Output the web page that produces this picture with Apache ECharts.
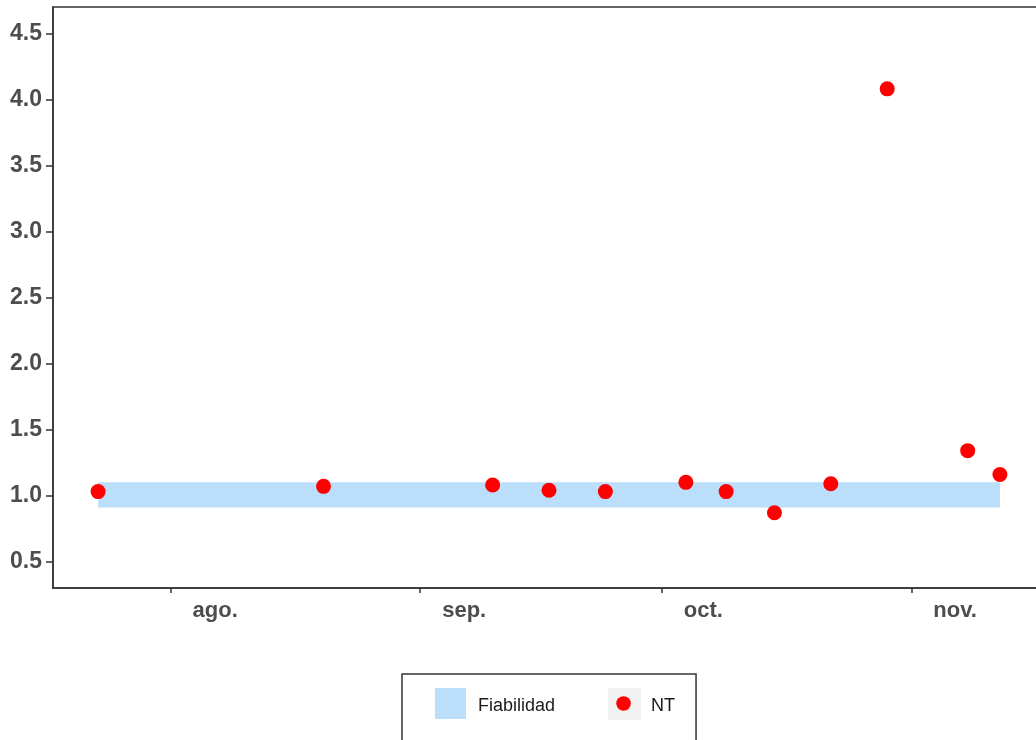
<!DOCTYPE html>
<html>
<head>
<meta charset="utf-8">
<title>NT</title>
<script src="https://cdn.jsdelivr.net/npm/echarts@6/dist/echarts.min.js"></script>
<style>
html, body { margin: 0; padding: 0; background: #fff; }
#chart { width: 1036px; height: 740px; }
</style>
</head>
<body>
<div id="chart"></div>
<script>
// datos
var fechas = ['2021-07-23', '2021-08-20', '2021-09-10', '2021-09-17', '2021-09-24', '2021-10-04',
              '2021-10-09', '2021-10-15', '2021-10-22', '2021-10-29', '2021-11-08', '2021-11-12'];
var valoresNT = [1.03, 1.07, 1.08, 1.04, 1.03, 1.10, 1.03, 0.87, 1.09, 4.08, 1.34, 1.16];
var fiabilidad = [0.91, 1.10]; // limite inferior / superior de la banda
var meses = ['2021-08-01', '2021-09-01', '2021-10-01', '2021-11-01'];
var nombresMes = ['ene.', 'feb.', 'mar.', 'abr.', 'may.', 'jun.', 'jul.', 'ago.', 'sep.', 'oct.', 'nov.', 'dic.'];
var ticksY = [0.5, 1.0, 1.5, 2.0, 2.5, 3.0, 3.5, 4.0, 4.5];

function t(s) {
    return new Date(s + 'T00:00:00').getTime();
}

var inicio = t(fechas[0]);
var fin = t(fechas[fechas.length - 1]);
var margen = (fin - inicio) * 0.05;

var puntos = fechas.map(function (f, i) {
    return [t(f), valoresNT[i]];
});

var myChart = echarts.init(document.getElementById('chart'));

var option = {
    backgroundColor: '#fff',
    animation: false,
    grid: {
        left: 53,
        top: 7,
        height: 581,
        width: 992,
        outerBoundsMode: 'none',
        show: true,
        borderColor: '#333',
        borderWidth: 1.5,
        containLabel: false
    },
    tooltip: { trigger: 'item' },
    legend: {
        left: 402,
        top: 674,
        padding: [14, 21, 40, 33],
        borderColor: '#333',
        borderWidth: 1.5,
        itemWidth: 31,
        itemHeight: 31,
        itemGap: 53,
        selectedMode: false,
        z: 5,
        textStyle: {
            fontFamily: 'Liberation Sans',
            fontSize: 18,
            color: '#1a1a1a',
            rich: {
                t: {
                    fontFamily: 'Liberation Sans',
                    fontSize: 18,
                    color: '#1a1a1a',
                    padding: [6, 0, 0, 7]
                }
            }
        },
        formatter: function (name) {
            return '{t|' + name + '}';
        },
        data: [
            { name: 'Fiabilidad', icon: 'rect' },
            { name: 'NT', icon: 'path://M0 0M32 32M16 8.5a7.5 7.5 0 1 1 0 15a7.5 7.5 0 1 1 0 -15z' }
        ]
    },
    graphic: [{
        type: 'rect',
        left: 608,
        top: 688,
        z: 0,
        shape: { width: 33, height: 32 },
        style: { fill: '#f2f2f2' }
    }],
    xAxis: {
        type: 'value',
        min: inicio - margen,
        max: fin + margen,
        splitLine: { show: false },
        axisLine: { lineStyle: { color: '#333', width: 1.5 } },
        axisTick: {
            length: 5,
            lineStyle: { color: '#333', width: 1.5 },
            customValues: meses.map(t)
        },
        axisLabel: {
            customValues: meses.map(t),
            align: 'left',
            padding: [0, 0, 0, 22],
            margin: 12,
            fontFamily: 'Liberation Sans',
            fontWeight: 'bold',
            fontSize: 22,
            color: '#4d4d4d',
            formatter: function (v) {
                return nombresMes[new Date(v).getMonth()];
            }
        }
    },
    yAxis: {
        type: 'value',
        min: 0.3,
        max: 4.7,
        splitLine: { show: false },
        axisLine: { show: true, lineStyle: { color: '#333', width: 1.5 } },
        axisTick: {
            show: true,
            length: 7,
            lineStyle: { color: '#333', width: 1.5 },
            customValues: ticksY
        },
        axisLabel: {
            customValues: ticksY,
            margin: 11,
            fontFamily: 'Liberation Sans',
            fontWeight: 'bold',
            fontSize: 23,
            color: '#4d4d4d',
            formatter: function (v) {
                return v.toFixed(1);
            }
        }
    },
    series: [
        {
            name: 'Fiabilidad',
            type: 'custom',
            silent: true,
            itemStyle: { color: '#bbdefb' },
            encode: { x: [0, 1], y: [2, 3] },
            data: [[inicio, fin, fiabilidad[0], fiabilidad[1]]],
            renderItem: function (params, api) {
                var p1 = api.coord([api.value(0), api.value(3)]);
                var p2 = api.coord([api.value(1), api.value(2)]);
                return {
                    type: 'rect',
                    shape: { x: p1[0], y: p1[1], width: p2[0] - p1[0], height: p2[1] - p1[1] },
                    style: { fill: '#bbdefb' }
                };
            }
        },
        {
            name: 'NT',
            type: 'scatter',
            symbol: 'circle',
            symbolSize: 15,
            z: 3,
            itemStyle: { color: '#ff0000', opacity: 1 },
            data: puntos
        }
    ]
};

myChart.setOption(option);
</script>
</body>
</html>
